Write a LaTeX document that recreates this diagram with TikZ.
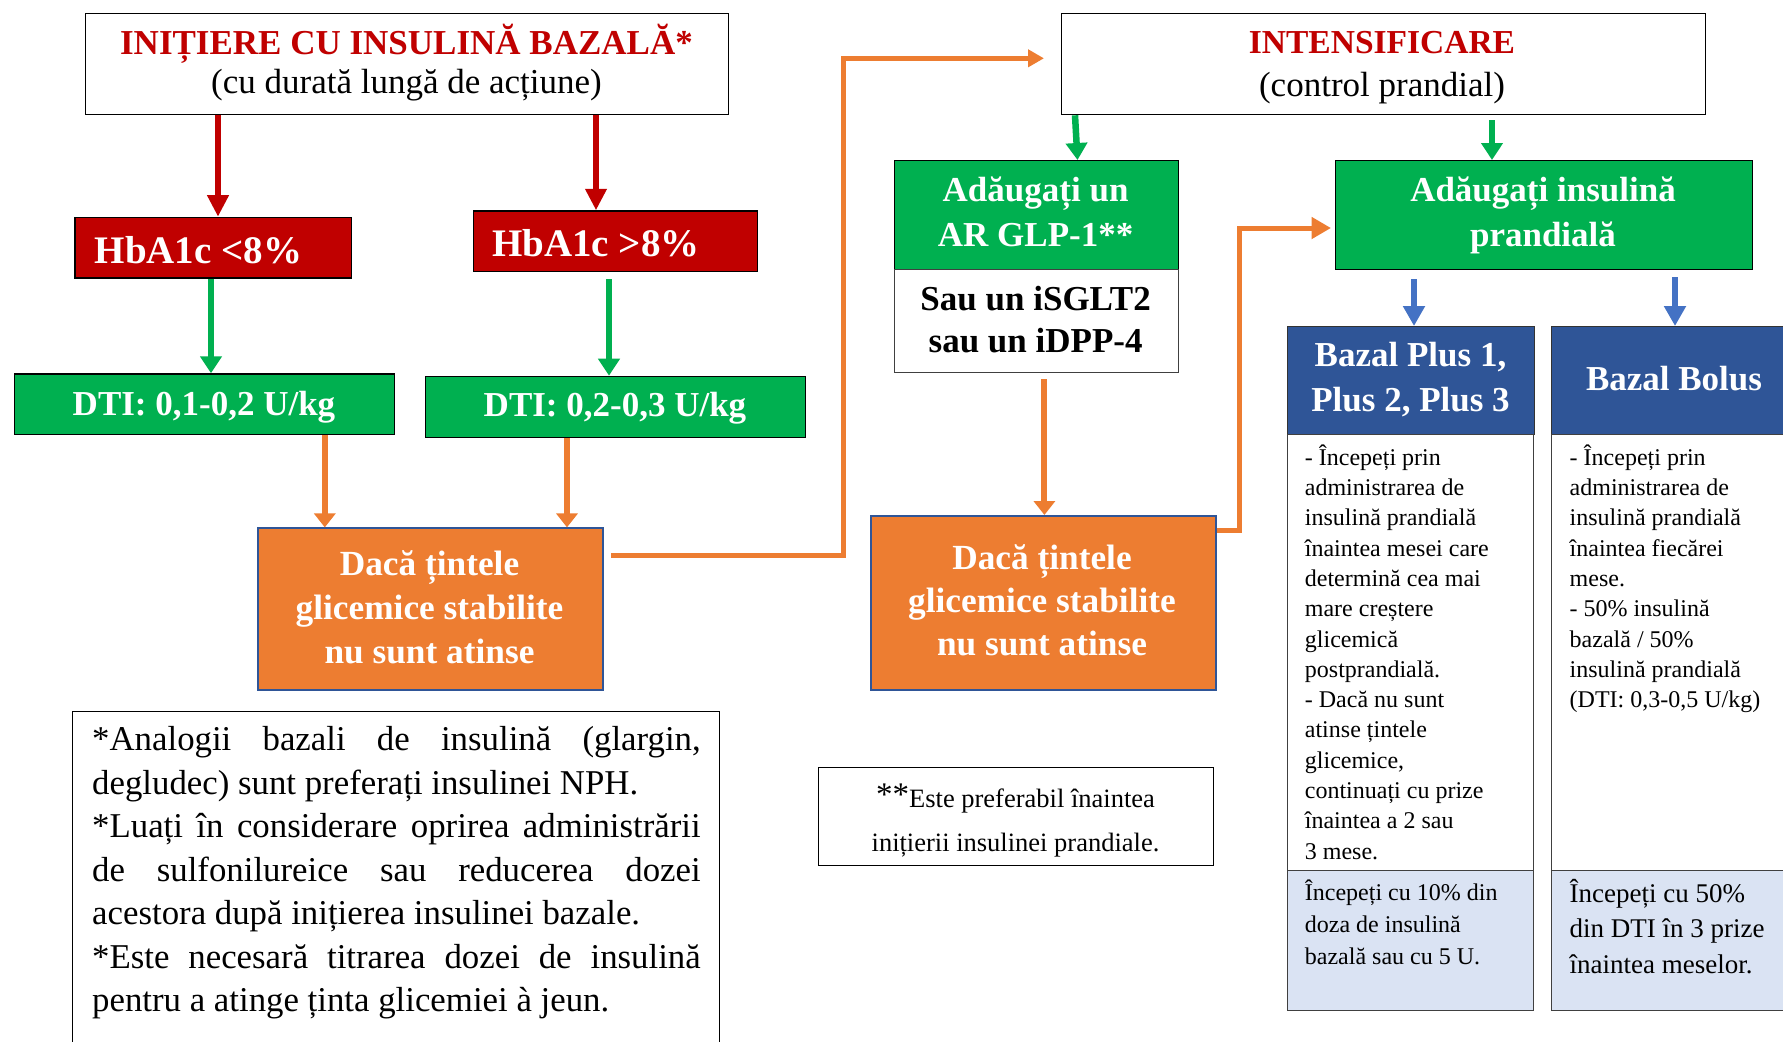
\documentclass[tikz,border=0pt]{standalone}
\usepackage{fontspec}
\setmainfont{Liberation Serif}
\usetikzlibrary{arrows.meta}

\definecolor{ired}{HTML}{C00000}
\definecolor{igreen}{HTML}{00B050}
\definecolor{iorange}{HTML}{ED7D31}
\definecolor{iblue}{HTML}{2F5597}
\definecolor{ilight}{HTML}{DAE3F3}
\definecolor{iarrow}{HTML}{4472C4}
\definecolor{iedge}{HTML}{404040}

% font size and baseline skip in big points
\newcommand\fsz[2]{\fontsize{#1bp}{#2bp}\selectfont}

\begin{document}
\begin{tikzpicture}[x=1bp, y=-1bp,
  frame/.style={draw=black, rectangle, inner sep=0pt, anchor=north west, line width=1.3bp},
  redbox/.style={frame, fill=ired},
  greenbox/.style={frame, fill=igreen},
  orangebox/.style={frame, fill=iorange, draw=iblue, line width=2bp},
  bluebox/.style={frame, fill=iblue, draw=black!80},
  bodybox/.style={frame, fill=white, draw=iedge},
  startbox/.style={frame, fill=ilight, draw=iedge},
  lbl/.style={inner sep=0pt, anchor=base},
  block/.style={inner sep=0pt, anchor=north, align=center},
  whitebold/.style={text=white, font=\fsz{35}{45}\bfseries},
  redarr/.style={draw=ired, line width=6.5bp, -{Triangle[width=20.5bp,length=21.5bp]}},
  greenarr/.style={draw=igreen, line width=6.5bp, -{Triangle[width=21bp,length=17bp]}},
  orangearr/.style={draw=iorange, line width=6bp, -{Triangle[width=21bp,length=14bp]}},
  orangerun/.style={draw=iorange, line width=5bp, line join=miter},
  bluearr/.style={draw=iarrow, line width=6bp, -{Triangle[width=21bp,length=20bp]}}
]
\useasboundingbox (0,0) rectangle (1783,1041);
\fill[white] (0,0) rectangle (1783,1041);
\clip (0,0) rectangle (1783,1041);

% ---------- left branch: basal insulin initiation ----------
\node[frame, minimum width=643bp, minimum height=101.3bp] (init) at (85,12.7) {};
\node[redbox, minimum width=276.3bp, minimum height=60.6bp] (hbl) at (74.2,216.7) {};
\node[redbox, minimum width=284.4bp, minimum height=60.4bp] (hbh) at (472.6,210.3) {};
\node[greenbox, minimum width=380.4bp, minimum height=60.7bp] (dtia) at (13.6,373.3) {};
\node[greenbox, minimum width=380.4bp, minimum height=60.8bp] (dtib) at (424.6,375.7) {};
\node[orangebox, minimum width=345bp, minimum height=161.6bp] (oraa) at (257,527.4) {};
\node[frame, minimum width=647.3bp, minimum height=345bp] (notea) at (71.7,710.5) {};

\node[lbl, text=ired, font=\fsz{35}{42}\bfseries] (tinita) at (406.5,54.5) {INIȚIERE CU INSULINĂ BAZALĂ*};
\node[lbl, font=\fsz{35}{42}] (tinitb) at (406.5,93.5) {(cu durată lungă de acțiune)};
\node[lbl, anchor=base west, text=white, font=\fsz{39}{45}\bfseries] (thbl) at (94.5,263.3) {HbA1c <8\%};
\node[lbl, anchor=base west, text=white, font=\fsz{39}{45}\bfseries] (thbh) at (492,256.7) {HbA1c >8\%};
\node[lbl, whitebold] (tdtia) at (204,415) {DTI: 0,1-0,2 U/kg};
\node[lbl, whitebold] (tdtib) at (615,416.7) {DTI: 0,2-0,3 U/kg};
\node[block, text=white, font=\fsz{35.3}{44}\bfseries] (toraa) at (429.5,544.2)
  {\strut Dacă țintele\\glicemice stabilite\\nu sunt atinse};
\node[inner sep=0pt, anchor=north west, align=left, font=\fsz{34.8}{43.5}] (tnotea) at (92,720)
  {\strut\makebox[608.5bp][s]{*Analogii bazali de insulină (glargin,}\\
   degludec) sunt preferați insulinei NPH.\\
   \makebox[608.5bp][s]{*Luați în considerare oprirea administrării}\\
   \makebox[608.5bp][s]{de sulfonilureice sau reducerea dozei}\\
   acestora după inițierea insulinei bazale.\\
   \makebox[608.5bp][s]{*Este necesară titrarea dozei de insulină}\\
   pentru a atinge ținta glicemiei à jeun.};

% ---------- right branch: intensification ----------
\node[frame, minimum width=644bp, minimum height=101.3bp] (intens) at (1061,12.7) {};
\node[greenbox, minimum width=283.8bp, minimum height=109bp] (glp) at (893.7,160) {};
\node[frame, draw=iedge, minimum width=283.8bp, minimum height=103bp] (alt) at (893.7,269) {};
\node[greenbox, minimum width=416.5bp, minimum height=109bp] (prand) at (1335,160) {};
\node[orangebox, minimum width=345.1bp, minimum height=174bp] (orab) at (869.6,515) {};
\node[frame, minimum width=395bp, minimum height=98bp] (noteb) at (818,767) {};

\node[bluebox, minimum width=247bp, minimum height=108bp] (plus) at (1286.5,326) {};
\node[bodybox, minimum width=246bp, minimum height=435.5bp] (plusbody) at (1286.5,434) {};
\node[startbox, minimum width=246bp, minimum height=140.5bp] (plusstart) at (1286.5,869.5) {};
\node[bluebox, minimum width=247bp, minimum height=108bp] (bolus) at (1550.8,326) {};
\node[bodybox, minimum width=247bp, minimum height=435.5bp] (bolusbody) at (1550.8,434) {};
\node[startbox, minimum width=247bp, minimum height=140.5bp] (bolusstart) at (1550.8,869.5) {};

\node[lbl, text=ired, font=\fsz{33.5}{42}\bfseries] (tintensa) at (1382,53.3) {INTENSIFICARE};
\node[lbl, font=\fsz{35}{42}] (tintensb) at (1382,96.7) {(control prandial)};
\node[block, whitebold] (tglp) at (1035.6,170.2) {\strut Adăugați un\\AR GLP-1**};
\node[block, font=\fsz{35}{42}\bfseries] (talt) at (1035.6,281.3) {\strut Sau un iSGLT2\\sau un iDPP-4};
\node[block, whitebold] (tprand) at (1543,170.2) {\strut Adăugați insulină\\prandială};
\node[block, text=white, font=\fsz{35.3}{43}\bfseries] (torab) at (1042,539) 
  {\strut Dacă țintele\\glicemice stabilite\\nu sunt atinse};
\node[lbl, font=\fsz{26.5}{44}] (tnoteba) at (1015.5,807)
  {\raisebox{1.5bp}{\fsz{33}{44}**}Este preferabil înaintea};
\node[lbl, font=\fsz{26.5}{44}] (tnotebb) at (1015.5,851.5) {inițierii insulinei prandiale.};

\node[block, whitebold] (tplus) at (1410.5,335.2) {\strut Bazal Plus 1,\\Plus 2, Plus 3};
\node[lbl, whitebold] (tbolus) at (1674,390.7) {Bazal Bolus};
\node[inner sep=0pt, anchor=north west, align=left, font=\fsz{24}{30.3}] (tplusbody) at (1304.7,443.8)
  {\strut - Începeți prin\\administrarea de\\insulină prandială\\înaintea mesei care\\determină cea mai\\mare creștere\\glicemică\\postprandială.\\- Dacă nu sunt\\atinse țintele\\glicemice,\\continuați cu prize\\înaintea a 2 sau\\3 mese.};
\node[inner sep=0pt, anchor=north west, align=left, font=\fsz{24}{30.3}] (tbolusbody) at (1569.5,443.8)
  {\strut - Începeți prin\\administrarea de\\insulină prandială\\înaintea fiecărei\\mese.\\- 50\% insulină\\bazală / 50\%\\insulină prandială\\(DTI: 0,3-0,5 U/kg)};
\node[inner sep=0pt, anchor=north west, align=left, font=\fsz{24}{32}] (tplusstart) at (1304.7,877.6)
  {\strut Începeți cu 10\% din\\doza de insulină\\bazală sau cu 5 U.};
\node[inner sep=0pt, anchor=north west, align=left, font=\fsz{27}{35.5}] (tbolusstart) at (1569.5,877.2)
  {\strut Începeți cu 50\%\\din DTI în 3 prize\\înaintea meselor.};

% ---------- connector positions ----------
\coordinate (xra) at (218,0);
\coordinate (xrb) at (596,0);
\coordinate (xga) at (211,0);
\coordinate (xgb) at (609,0);
\coordinate (xoa) at (324.8,0);
\coordinate (xob) at (567,0);
\coordinate (xgc) at (1075,0);
\coordinate (xgd) at (1077.5,0);
\coordinate (xge) at (1492,0);
\coordinate (xoc) at (1044.4,0);
\coordinate (xba) at (1414,0);
\coordinate (xbb) at (1675,0);
\coordinate (kna) at (843.5,555.6);
\coordinate (knb) at (843.5,58.3);
\coordinate (knc) at (1239.5,530);
\coordinate (knd) at (1239.5,228);

% ---------- connectors ----------
\draw[redarr] (init.south -| xra) -- (hbl.north -| xra);
\draw[redarr] (init.south -| xrb) -- (hbh.north -| xrb);
\draw[greenarr] (hbl.south -| xga) -- (dtia.north -| xga);
\draw[greenarr, shorten <=7bp] (hbh.south -| xgb) -- (dtib.north -| xgb);
\draw[orangearr] (dtia.south -| xoa) -- (oraa.north -| xoa);
\draw[orangearr] (dtib.south -| xob) -- (oraa.north -| xob);
\draw[orangerun, -{Triangle[width=17bp,length=16bp]}, shorten <=7bp, shorten >=17bp]
  (oraa.east |- kna) -- (kna) -- (knb) -- (intens.west |- knb);
\draw[greenarr] (intens.south -| xgc) -- (glp.north -| xgd);
\draw[greenarr, shorten <=5bp] (intens.south -| xge) -- (prand.north -| xge);
\draw[orangearr, shorten <=6bp] (alt.south -| xoc) -- (orab.north -| xoc);
\draw[orangerun, -{Triangle[width=21bp,length=19.5bp]}, shorten >=4bp]
  (orab.east |- knc) -- (knc) -- (knd) -- (prand.west |- knd);
\draw[bluearr, shorten <=9bp] (prand.south -| xba) -- (plus.north -| xba);
\draw[bluearr, shorten <=7bp] (prand.south -| xbb) -- (bolus.north -| xbb);
\end{tikzpicture}
\end{document}
